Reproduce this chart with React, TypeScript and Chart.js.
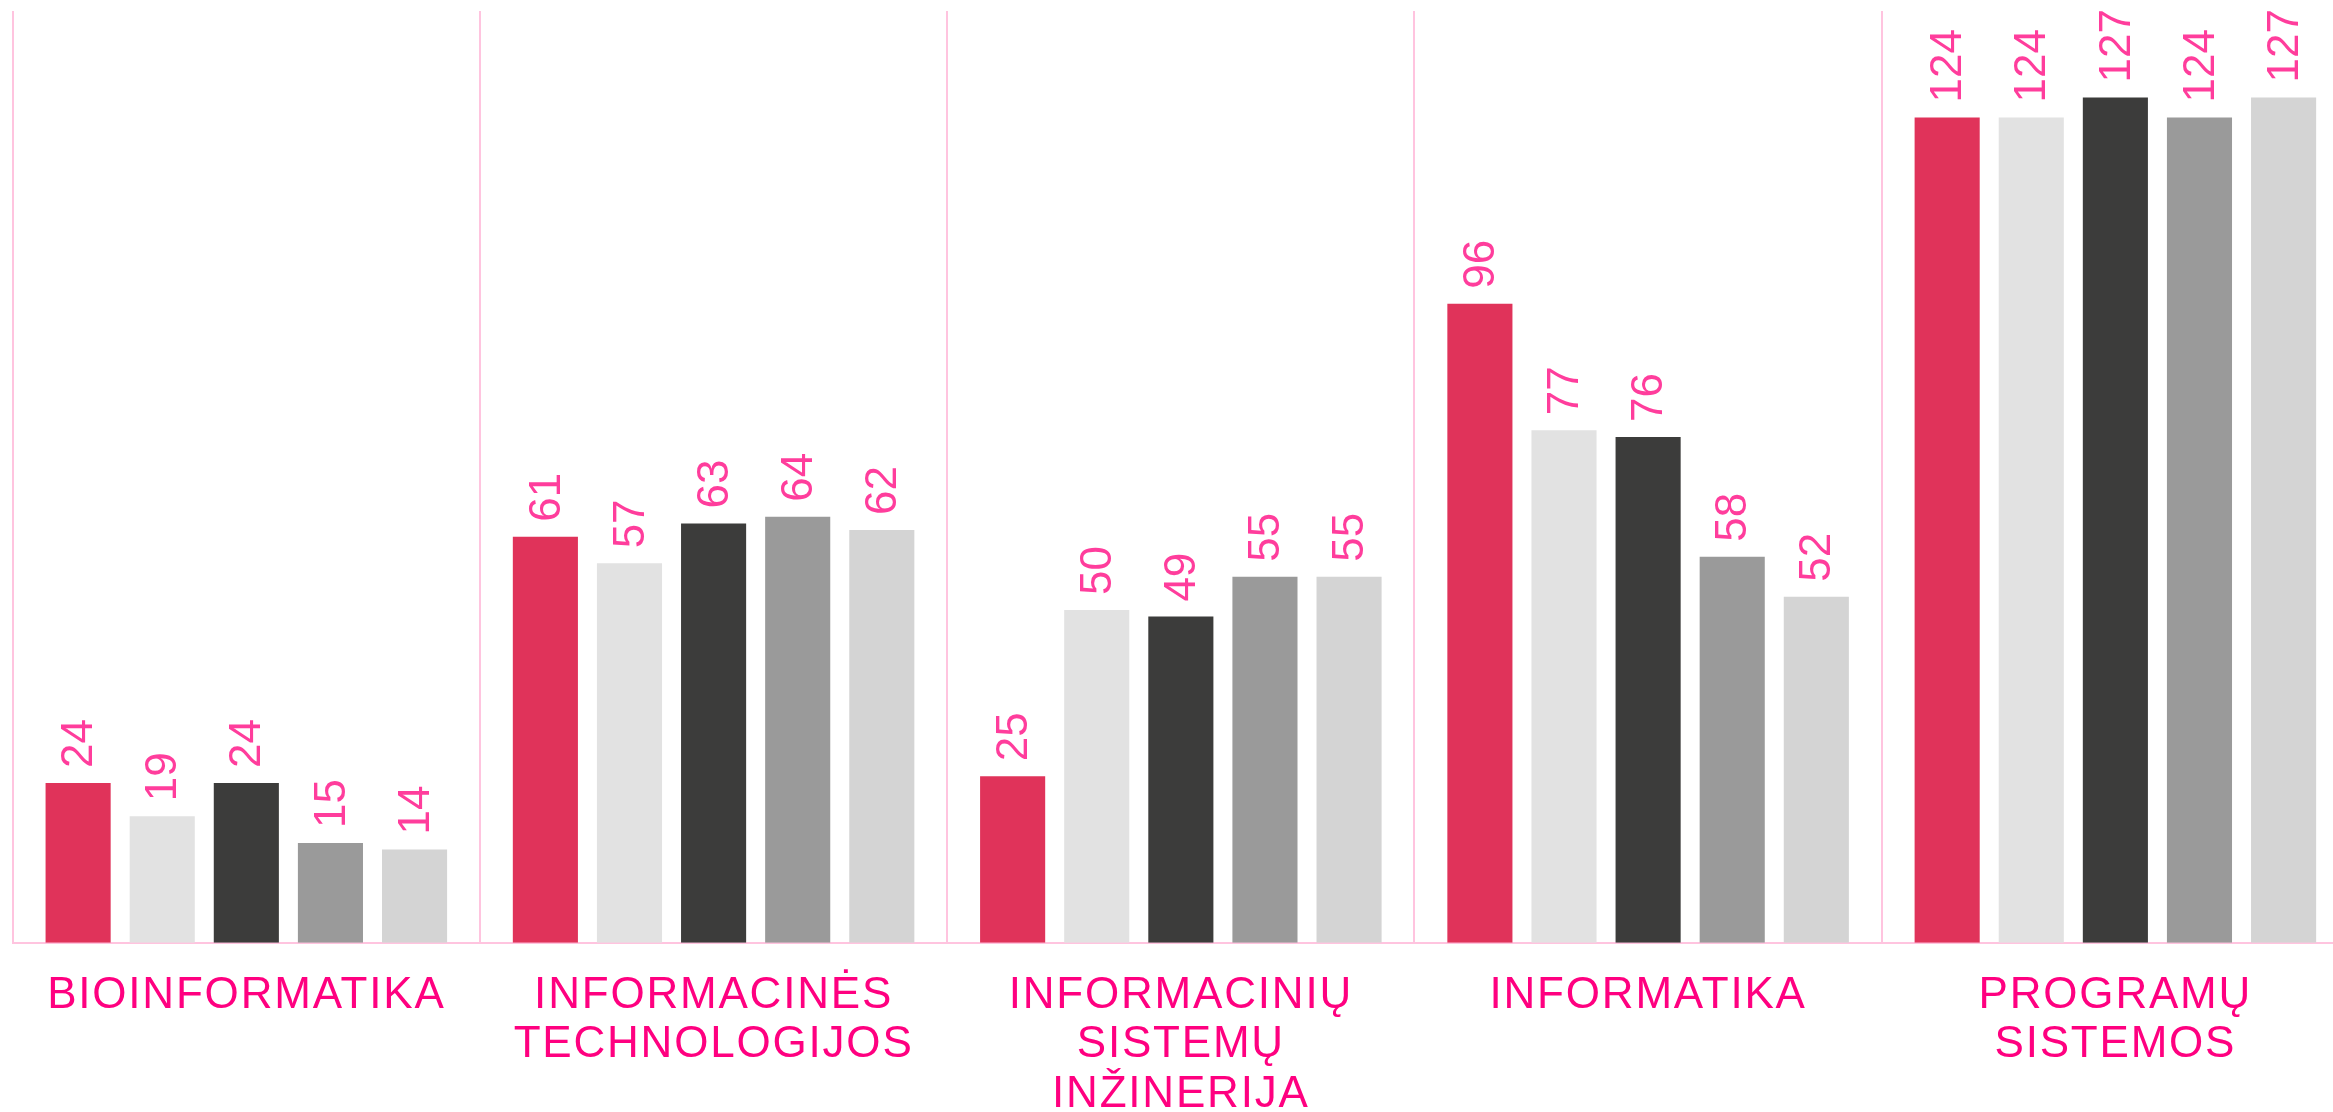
import React, { useEffect, useRef } from 'react';
import { Chart, registerables } from 'chart.js';

Chart.register(...registerables);

const categories: string[][] = [
  ['BIOINFORMATIKA'],
  ['INFORMACINĖS', 'TECHNOLOGIJOS'],
  ['INFORMACINIŲ', 'SISTEMŲ', 'INŽINERIJA'],
  ['INFORMATIKA'],
  ['PROGRAMŲ', 'SISTEMOS'],
];

const series1 = [24, 61, 25, 96, 124];
const series2 = [19, 57, 50, 77, 124];
const series3 = [24, 63, 49, 76, 127];
const series4 = [15, 64, 55, 58, 124];
const series5 = [14, 62, 55, 52, 127];

const seriesNames = ['1', '2', '3', '4', '5'];
const seriesColors = ['#e0335a', '#e2e2e2', '#3c3c3b', '#9a9a9a', '#d4d4d4'];

const yMin = 0;
const yMax = 140;

const FONT = '"Liberation Sans", Arial, Helvetica, sans-serif';
const GRID_COLOR = '#ffc4df';

const valueLabels = {
  id: 'valueLabels',
  beforeDraw(chart: any) {
    (chart.ctx as any).letterSpacing = '1.8px';
  },
  afterDatasetsDraw(chart: any) {
    const ctx = chart.ctx as any;
    ctx.save();
    ctx.letterSpacing = '0px';
    ctx.font = `44px ${FONT}`;
    ctx.fillStyle = '#ff3d9c';
    ctx.textAlign = 'left';
    ctx.textBaseline = 'middle';
    chart.data.datasets.forEach((ds: any, i: number) => {
      const meta = chart.getDatasetMeta(i);
      meta.data.forEach((el: any, j: number) => {
        ctx.save();
        ctx.translate(el.x + 2, el.y - 15);
        ctx.rotate(-Math.PI / 2);
        ctx.fillText(String(ds.data[j]), 0, 0);
        ctx.restore();
      });
    });
    ctx.restore();
    ctx.letterSpacing = '1.8px';
  },
};

export default function App() {
  const ref = useRef<HTMLCanvasElement | null>(null);

  useEffect(() => {
    if (!ref.current) return;
    const allSeries = [series1, series2, series3, series4, series5];
    const chart = new Chart(ref.current, {
      type: 'bar',
      data: {
        labels: categories,
        datasets: allSeries.map((s, i) => ({
          label: seriesNames[i],
          data: s,
          backgroundColor: seriesColors[i],
          borderWidth: 0,
          categoryPercentage: 0.9,
          barPercentage: 0.774,
        })),
      },
      options: {
        responsive: false,
        animation: false,
        layout: { padding: { left: 12.7, top: 11, right: 0, bottom: 0 } },
        plugins: {
          legend: { display: false },
          tooltip: { enabled: false },
        },
        scales: {
          x: {
            grid: {
              display: true,
              color: GRID_COLOR,
              lineWidth: 2,
              drawTicks: false,
              offset: true,
            },
            border: { display: true, color: GRID_COLOR, width: 2 },
            ticks: {
              color: '#ff0080',
              font: { family: FONT, size: 44, lineHeight: 1.13 },
              padding: 28,
              autoSkip: false,
              maxRotation: 0,
              minRotation: 0,
            },
            afterFit(scale: any) {
              scale.height = 169.3;
            },
          },
          y: {
            display: false,
            min: yMin,
            max: yMax,
          },
        },
      },
      plugins: [valueLabels as any],
    });
    return () => chart.destroy();
  }, []);

  return (
    <div
      style={{
        position: 'fixed',
        top: 0,
        left: 0,
        width: '2333px',
        height: '1112px',
        overflow: 'hidden',
        background: '#ffffff',
      }}
    >
      <canvas ref={ref} width={2349} height={1112} style={{ display: 'block' }} />
    </div>
  );
}
